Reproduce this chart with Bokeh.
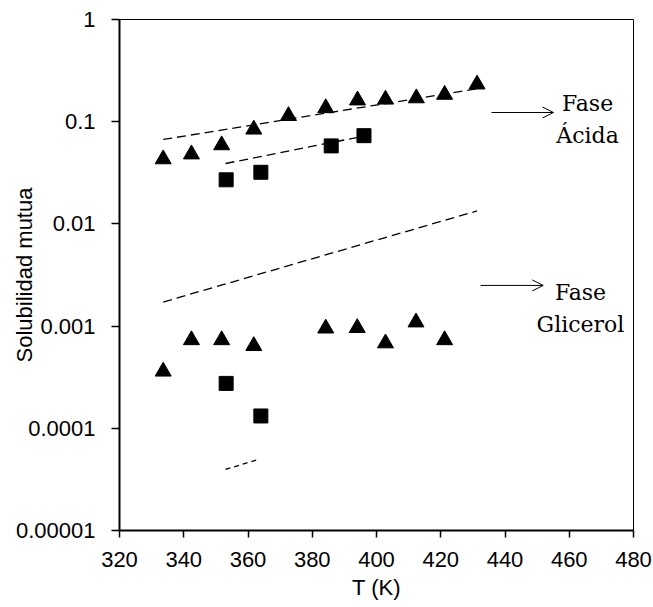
from bokeh.plotting import figure
from bokeh.models import (FixedTicker, CustomJSTickFormatter, Label, Arrow, OpenHead)
from bokeh.embed import file_html
from bokeh.resources import INLINE

# ---- data ----
T_acid_tri = [333.6, 342.4, 351.8, 361.8, 372.6, 384.2, 394.1, 402.8, 412.4, 421.2, 431.3]
S_acid_tri = [0.043, 0.048, 0.059, 0.084, 0.114, 0.136, 0.162, 0.165, 0.170, 0.184, 0.232]

T_acid_sq = [353.2, 364.0, 385.9, 396.1]
S_acid_sq = [0.027, 0.032, 0.058, 0.073]

T_gly_tri = [333.6, 342.4, 351.8, 361.8, 384.2, 394.0, 402.8, 412.3, 421.2]
S_gly_tri = [0.00036, 0.00073, 0.00073, 0.00064, 0.00095, 0.00096, 0.00068, 0.00109, 0.00073]

T_gly_sq = [353.2, 364.0]
S_gly_sq = [0.000275, 0.000132]

# dashed model lines (start, end)
T_fit_acid_tri = [333.6, 431.3]
S_fit_acid_tri = [0.067, 0.21]
T_fit_acid_sq = [353.0, 395.8]
S_fit_acid_sq = [0.039, 0.072]
T_fit_gly_tri = [333.6, 431.3]
S_fit_gly_tri = [0.00172, 0.0134]
T_fit_gly_sq = [353.0, 363.7]
S_fit_gly_sq = [0.0000396, 0.0000502]

x_ticks = [320, 340, 360, 380, 400, 420, 440, 460, 480]
y_ticks = [0.00001, 0.0001, 0.001, 0.01, 0.1, 1]
y_tick_labels = ["0.00001", "0.0001", "0.001", "0.01", "0.1", "1"]

FONT = "Liberation Sans"
SERIF = "DejaVu Serif"

p = figure(width=653, height=607, x_range=(320, 480), y_range=(0.00001, 1),
           y_axis_type="log", output_backend="svg", toolbar_location=None,
           min_border_left=119, min_border_right=20, min_border_top=19,
           min_border_bottom=77)

p.background_fill_color = "white"
p.border_fill_color = "white"
p.outline_line_color = "black"
p.outline_line_width = 1
p.xgrid.visible = False
p.ygrid.visible = False

# axes
p.xaxis.ticker = FixedTicker(ticks=x_ticks)
p.yaxis.ticker = FixedTicker(ticks=y_ticks)
p.yaxis.formatter = CustomJSTickFormatter(args=dict(labels=y_tick_labels), code="""
    const e = Math.round(Math.log10(tick));
    return labels[e + 5];
""")
for ax in (p.xaxis[0], p.yaxis[0]):
    ax.axis_line_width = 2
    ax.axis_line_color = "black"
    ax.major_tick_line_color = "black"
    ax.major_tick_line_width = 1.5
    ax.major_tick_in = 0
    ax.minor_tick_line_color = None
    ax.major_label_text_font = FONT
    ax.major_label_text_font_size = "22px"
    ax.major_label_text_color = "black"
    ax.axis_label_text_font = FONT
    ax.axis_label_text_font_size = "22px"
    ax.axis_label_text_font_style = "normal"
    ax.axis_label_text_color = "black"

p.xaxis.major_tick_out = 7
p.yaxis.major_tick_out = 8
p.xaxis.major_label_standoff = 14
p.yaxis.major_label_standoff = 16
p.xaxis.axis_label = "T (K)"
p.yaxis.axis_label = "Solubilidad mutua"
p.xaxis.axis_label_standoff = 5
p.yaxis.axis_label_standoff = -24

# dashed lines
p.line(T_fit_acid_tri, S_fit_acid_tri, line_color="black", line_width=1.3, line_dash="9 5")
p.line(T_fit_acid_sq, S_fit_acid_sq, line_color="black", line_width=1.3, line_dash="9 5")
p.line(T_fit_gly_tri, S_fit_gly_tri, line_color="black", line_width=1.3, line_dash="9 5")
p.line(T_fit_gly_sq, S_fit_gly_sq, line_color="black", line_width=1.3, line_dash="5 4")

# markers
p.scatter(T_acid_tri, S_acid_tri, marker="triangle", size=16, fill_color="black", line_color="black")
p.scatter(T_gly_tri, S_gly_tri, marker="triangle", size=16, fill_color="black", line_color="black")
p.scatter(T_acid_sq, S_acid_sq, marker="square", size=14, fill_color="black", line_color="black")
p.scatter(T_gly_sq, S_gly_sq, marker="square", size=14, fill_color="black", line_color="black")

# annotations
def add_text(x, y, t):
    p.add_layout(Label(x=x, y=y, text=t, text_font=SERIF, text_font_size="22px",
                       text_align="center", text_baseline="alphabetic", text_color="black"))

add_text(465.7, 0.1507, "Fase")
add_text(465.7, 0.0733, "Ácida")
add_text(463.5, 0.00213, "Fase")
add_text(463.5, 0.00104, "Glicerol")

p.add_layout(Arrow(end=OpenHead(size=11, line_width=1, line_color="black"),
                   x_start=435.8, y_start=0.123, x_end=455.1, y_end=0.123,
                   line_width=1, line_color="black"))
p.add_layout(Arrow(end=OpenHead(size=11, line_width=1, line_color="black"),
                   x_start=432.4, y_start=0.0025, x_end=451.9, y_end=0.0025,
                   line_width=1, line_color="black"))

open("out.html", "w").write(file_html(p, INLINE))
